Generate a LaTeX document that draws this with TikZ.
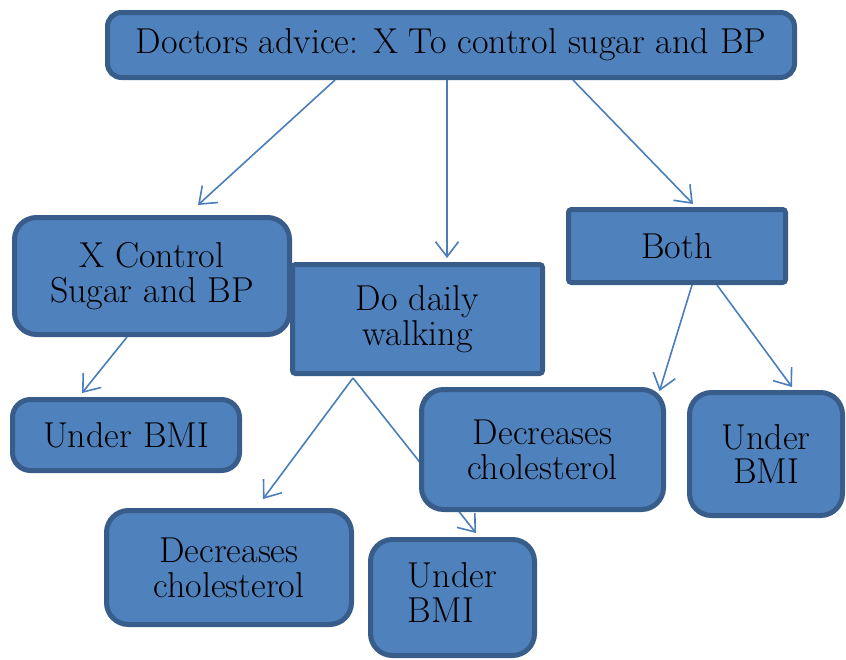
\documentclass[tikz,border=0pt]{standalone}
\usepackage{fontspec}
\usetikzlibrary{arrows.meta,backgrounds}
\definecolor{boxfill}{RGB}{79,129,189}
\definecolor{boxline}{RGB}{56,93,138}
\definecolor{arrcol}{RGB}{74,126,187}
\begin{document}
\begin{tikzpicture}[x=1pt,y=-1pt,
  box/.style={draw=boxline, fill=boxfill, line width=5pt, align=center, inner sep=0pt,
    font=\rmfamily\fontsize{36}{35}\selectfont, text=black},
  rbox/.style={box, rounded corners=22pt},
  sbox/.style={box, rounded corners=3pt},
  arr/.style={draw=arrcol, line width=1.6pt, -{Straight Barb[length=15pt,width=23pt]}}]
\useasboundingbox (0,0) rectangle (846,659);
\node[box, rounded corners=14pt, minimum width=687pt, minimum height=65pt] (top) at (451,45) {Doctors advice: X To control sugar and BP};
\node[sbox, minimum width=250pt, minimum height=109pt] (dw) at (417.5,319) {Do daily\\walking};
\node[rbox, minimum width=275pt, minimum height=117pt] (xc) at (152,276) {X Control\\Sugar and BP};
\node[sbox, minimum width=217pt, minimum height=73pt] (both) at (677,246) {Both};
\node[rbox, rounded corners=18pt, minimum width=227pt, minimum height=71pt] (ubl) at (126,435) {Under BMI};
\node[rbox, minimum width=242pt, minimum height=120pt] (dcr) at (542.5,449.5) {Decreases\\cholesterol};
\node[rbox, minimum width=153pt, minimum height=123pt] (ubr) at (766,454) {Under\\BMI};
\node[rbox, minimum width=245pt, minimum height=114pt] (dcb) at (229,567.5) {Decreases\\cholesterol};
\node[rbox, minimum width=164pt, minimum height=116pt] (ubb) at (452.5,597.5) {\begin{tabular}{@{}l@{}}Under\\BMI\end{tabular}};
\begin{scope}[on background layer]
\draw[arr] ([shift={(-116,0)}]top.south) -- ([shift={(46,-10)}]xc.north);
\draw[arr] ([shift={(-4,0)}]top.south) -- ([shift={(29.5,-4)}]dw.north);
\draw[arr] ([shift={(122,0)}]top.south) -- ([shift={(16,-3)}]both.north);
\draw[arr] ([shift={(-25,0)}]xc.south) -- ([shift={(-44,-4)}]ubl.north);
\draw[arr] ([shift={(-64.5,2)}]dw.south) -- ([shift={(34,-9)}]dcb.north);
\draw[arr] ([shift={(-64.5,2)}]dw.south) -- ([shift={(23.5,-4)}]ubb.north);
\draw[arr] ([shift={(15,0)}]both.south) -- ([shift={(117,4)}]dcr.north);
\draw[arr] ([shift={(40,0)}]both.south) -- ([shift={(26,-3)}]ubr.north);
\end{scope}
\end{tikzpicture}
\end{document}
